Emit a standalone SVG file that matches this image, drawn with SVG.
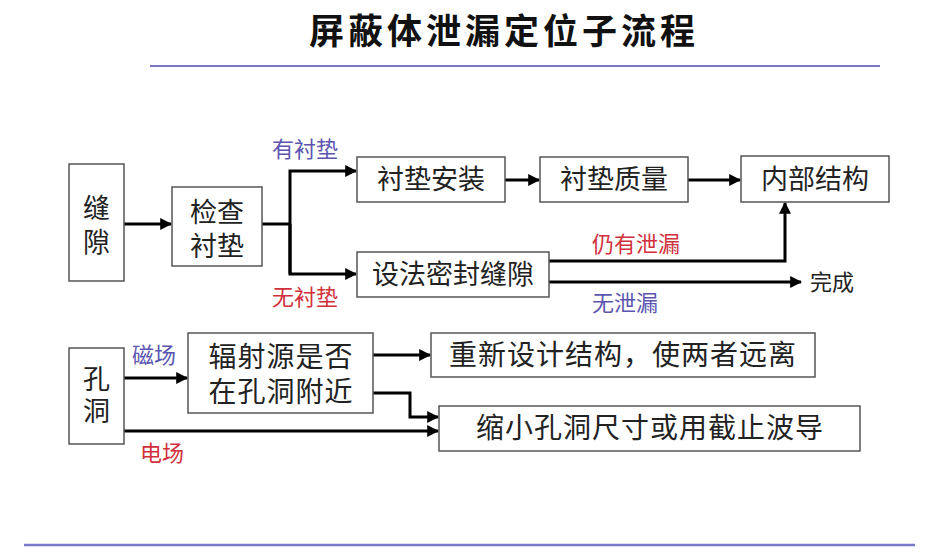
<svg xmlns="http://www.w3.org/2000/svg" width="933" height="553" viewBox="0 0 933 553">
<defs>
<marker id="ah" viewBox="0 0 10 10" refX="9" refY="5" markerWidth="4" markerHeight="4" orient="auto" markerUnits="strokeWidth">
<path d="M0,0 L10,5 L0,10 z" fill="#000"/>
</marker>
<style>
.box{fill:#fff;stroke:#555;stroke-width:1.5}
.t{font-family:"Liberation Serif","Noto Sans CJK SC",serif;font-size:27px;fill:#222}
.t2{font-family:"Liberation Serif","Noto Sans CJK SC",serif;font-size:28px;fill:#222;letter-spacing:1px}
.lb{font-family:"Liberation Serif","Noto Sans CJK SC",serif;font-size:22px}
.blue{fill:#5b55b0}
.red{fill:#d0303c}
.c{fill:none;stroke:#000;stroke-width:3;marker-end:url(#ah)}
.cn{fill:none;stroke:#000;stroke-width:3}
</style>
</defs>
<rect width="933" height="553" fill="#fff"/>
<text x="504" y="44" text-anchor="middle" font-family="'Noto Sans CJK SC',sans-serif" font-weight="bold" font-size="35" letter-spacing="4" fill="#111">屏蔽体泄漏定位子流程</text>
<line x1="150" y1="66" x2="880" y2="66" stroke="#7a78c8" stroke-width="2"/>
<line x1="24" y1="545" x2="915" y2="545" stroke="#7a78c8" stroke-width="2.5"/>

<g id="connectors">
<path class="c" d="M124,224 H171"/>
<path class="cn" d="M262,224 H290"/>
<path class="c" d="M290,274 V171 H356"/>
<path class="c" d="M290,224 V274 H356"/>
<path class="c" d="M505,180 H539"/>
<path class="c" d="M688,180 H740"/>
<path class="c" d="M549,261 H785 V203"/>
<path class="c" d="M549,282 H801"/>
<path class="c" d="M124,378 H187"/>
<path class="c" d="M373,355 H430"/>
<path class="c" d="M373,393 H410 V417 H438"/>
<path class="c" d="M124,431 H438"/>
</g>

<g id="lbl-youchendian"><text class="lb blue" x="272" y="157">有衬垫</text></g>
<g id="lbl-wuchendian"><text class="lb red" x="272" y="305">无衬垫</text></g>
<g id="lbl-rengyou"><text class="lb red" x="592" y="252">仍有泄漏</text></g>
<g id="lbl-wuxie"><text class="lb blue" x="592" y="311">无泄漏</text></g>
<g id="lbl-cichang"><text class="lb blue" x="132" y="363">磁场</text></g>
<g id="lbl-dianchang"><text class="lb red" x="140" y="461">电场</text></g>

<g id="n-fengxi"><rect class="box" x="69" y="164" width="55" height="117"/>
<text class="t" x="96.5" y="218" text-anchor="middle">缝</text><text class="t" x="96.5" y="252" text-anchor="middle">隙</text></g>
<g id="n-jiancha"><rect class="box" x="172" y="187" width="90" height="79"/>
<text class="t" x="217" y="222" text-anchor="middle">检查</text><text class="t" x="217" y="256" text-anchor="middle">衬垫</text></g>
<g id="n-anzhuang"><rect class="box" x="357" y="157" width="148" height="45"/>
<text class="t" x="431" y="189" text-anchor="middle">衬垫安装</text></g>
<g id="n-zhiliang"><rect class="box" x="540" y="157" width="148" height="45"/>
<text class="t" x="614" y="189" text-anchor="middle">衬垫质量</text></g>
<g id="n-neibu"><rect class="box" x="741" y="156" width="148" height="46"/>
<text class="t" x="815" y="189" text-anchor="middle">内部结构</text></g>
<g id="n-mifeng"><rect class="box" x="357" y="252" width="192" height="45"/>
<text class="t" x="453" y="284" text-anchor="middle">设法密封缝隙</text></g>
<g id="n-wancheng"><text class="lb" x="810" y="290" fill="#222">完成</text></g>

<g id="n-kongdong"><rect class="box" x="69" y="348" width="55" height="96"/>
<text class="t" x="96.5" y="389" text-anchor="middle">孔</text><text class="t" x="96.5" y="421" text-anchor="middle">洞</text></g>
<g id="n-fushe"><rect class="box" x="188" y="333" width="185" height="80"/>
<text class="t2" x="281" y="367" text-anchor="middle">辐射源是否</text><text class="t2" x="281" y="402" text-anchor="middle">在孔洞附近</text></g>
<g id="n-chongxin"><rect class="box" x="431" y="333" width="384" height="44"/>
<text class="t2" x="623" y="365" text-anchor="middle">重新设计结构，使两者远离</text></g>
<g id="n-suoxiao"><rect class="box" x="439" y="406" width="421" height="45"/>
<text class="t2" x="650" y="438" text-anchor="middle">缩小孔洞尺寸或用截止波导</text></g>
</svg>
